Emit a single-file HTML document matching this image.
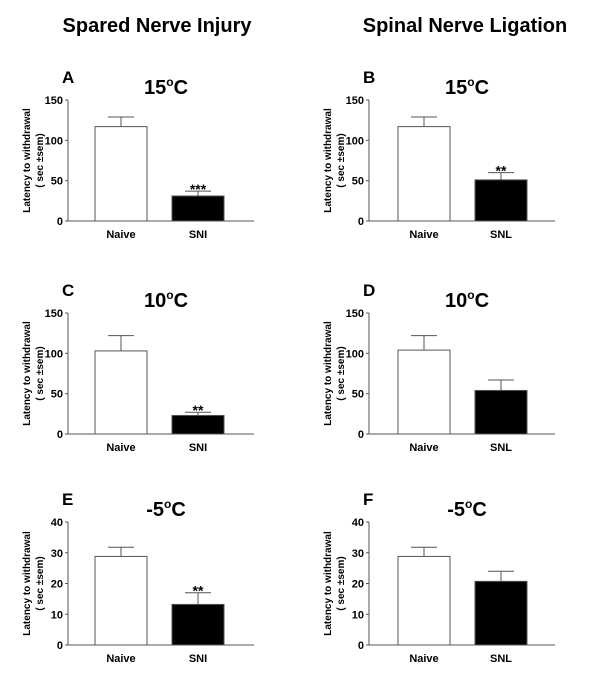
<!DOCTYPE html>
<html><head><meta charset="utf-8"><style>
body{margin:0;background:#fff;}
svg{display:block;font-family:"Liberation Sans",Arial,sans-serif;}
</style></head><body>
<svg id="fig" width="600" height="677" viewBox="0 0 600 677">
<text x="157" y="32" font-size="20" font-weight="bold" text-anchor="middle">Spared Nerve Injury</text>
<text x="465" y="32" font-size="20" font-weight="bold" text-anchor="middle">Spinal Nerve Ligation</text>
</svg>
<script>
const panelLetters = ["A","B","C","D","E","F"];
const panelTemps = ["15","15","10","10","-5","-5"];
const categoriesLeft = ["Naive","SNI"];
const categoriesRight = ["Naive","SNL"];
const meanValues = [[117,31],[117,51],[103,23],[104,54],[28.8,13.2],[28.8,20.7]];
const errorValues = [[12,6],[12,9],[19,4],[18,13],[3,3.8],[3,3.3]];
const significance = [["","***"],["","**"],["","**"],["",""],["","**"],["",""]];
const axisMax = [150,150,150,150,40,40];
const tickLabelsBig = [0,50,100,150];
const tickLabelsSmall = [0,10,20,30,40];

const NS="http://www.w3.org/2000/svg";
const svg=document.getElementById('fig');
function mk(tag,attrs,parent){const e=document.createElementNS(NS,tag);for(const k in attrs)e.setAttribute(k,attrs[k]);(parent||svg).appendChild(e);return e;}

const rowsTop=[100,313,522], rowsBottom=[221,434,645];
for(let p=0;p<6;p++){
  const col=p%2,row=Math.floor(p/2);
  const ax=col?369:68, top=rowsTop[row], bot=rowsBottom[row], axEnd=ax+186;
  const g=mk('g',{});
  
  
  const y=v=>bot-(v/axisMax[p])*(bot-top);
  const lt=mk('text',{x:ax-6,y:top-17,'font-size':17,'font-weight':'bold'},g);lt.textContent=panelLetters[p];
  
  
  const tt=mk('text',{x:ax+98,y:top-6,'font-size':20,'font-weight':'bold','text-anchor':'middle'},g);
  
  
  tt.appendChild(document.createTextNode(panelTemps[p]));
  const sup=mk('tspan',{'font-size':12,dy:-8},tt);sup.textContent='o';
  const cc=mk('tspan',{dy:8},tt);cc.textContent='C';
  const ya=mk('line',{x1:ax,y1:top,x2:ax,y2:bot,stroke:'#555','stroke-width':1},g);
  
  
  const xa=mk('line',{x1:ax,y1:bot,x2:axEnd,y2:bot,stroke:'#555','stroke-width':1},g);
  
  
  const ticks=axisMax[p]>50?tickLabelsBig:tickLabelsSmall;
  ticks.forEach(t=>{
    mk('line',{x1:ax-3,y1:y(t),x2:ax,y2:y(t),stroke:'#555'},g);
    const tl=mk('text',{x:ax-5,y:y(t)+4,'font-size':11,'font-weight':'bold','text-anchor':'end'},g);tl.textContent=t;
    
    
  });
  const yl=mk('text',{x:0,y:0,'font-size':10,'font-weight':'bold','text-anchor':'middle',transform:`translate(${ax-38},${(top+bot)/2}) rotate(-90)`},g);
  
  
  const t1=mk('tspan',{x:0,dy:0},yl);t1.textContent='Latency to withdrawal';
  const t2=mk('tspan',{x:0,dy:13},yl);t2.textContent='( sec ±sem)';
  const cats=col?categoriesRight:categoriesLeft;
  const offs=col?[29,106]:[27,104];
  for(let b=0;b<2;b++){
    const bx=ax+offs[b], bw=52, v=meanValues[p][b], e=errorValues[p][b];
    const cx=bx+bw/2;
    const el=mk('line',{x1:cx,y1:y(v),x2:cx,y2:y(v+e),stroke:'#555'},g);
    
    
    mk('line',{x1:cx-13,y1:y(v+e),x2:cx+13,y2:y(v+e),stroke:'#555'},g);
    const r=mk('rect',{x:bx,y:y(v),width:bw,height:bot-y(v),fill:b?'#000':'#fff',stroke:'#555','stroke-width':1},g);
    
    
    const cl=mk('text',{x:cx,y:bot+17,'font-size':11,'font-weight':'bold','text-anchor':'middle'},g);cl.textContent=cats[b];
    
    
    if(significance[p][b]){
      const s=mk('text',{x:cx,y:y(v+e)+3,'font-size':14,'font-weight':'bold','text-anchor':'middle'},g);s.textContent=significance[p][b];
      
      
    }
  }
}
</script>
</body></html>
